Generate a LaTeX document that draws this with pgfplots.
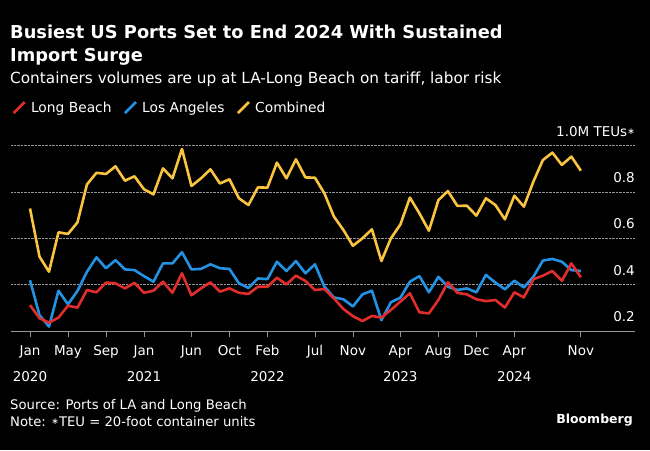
\documentclass[border=0pt]{standalone}
\usepackage{pgfplots}
\pgfplotsset{compat=1.18}
\usepackage{pgfplotstable}
\usepackage{fontspec}
\setmainfont{DejaVu Sans}

\definecolor{lbred}{RGB}{226,45,45}
\definecolor{lablue}{RGB}{36,146,226}
\definecolor{combyel}{RGB}{250,196,64}
\definecolor{gridgray}{RGB}{150,150,150}

% monthly TEUs (millions), Jan 2020 = 0
\pgfplotstableread{
m lb la comb
0 0.312 0.419 0.729
1 0.255 0.269 0.521
2 0.236 0.219 0.456
3 0.258 0.374 0.626
4 0.309 0.315 0.619
5 0.301 0.373 0.669
6 0.377 0.456 0.833
7 0.367 0.518 0.883
8 0.409 0.471 0.878
9 0.406 0.506 0.911
10 0.384 0.466 0.849
11 0.408 0.463 0.868
12 0.365 0.437 0.812
13 0.374 0.413 0.790
14 0.413 0.492 0.902
15 0.365 0.492 0.859
16 0.449 0.540 0.986
17 0.354 0.466 0.826
18 0.384 0.468 0.859
19 0.410 0.488 0.898
20 0.370 0.471 0.837
21 0.384 0.468 0.855
22 0.365 0.406 0.773
23 0.360 0.386 0.744
24 0.391 0.427 0.820
25 0.391 0.424 0.819
26 0.430 0.499 0.927
27 0.401 0.459 0.859
28 0.439 0.502 0.941
29 0.416 0.449 0.863
30 0.377 0.488 0.862
31 0.381 0.391 0.794
32 0.341 0.345 0.694
33 0.295 0.337 0.636
34 0.264 0.306 0.568
35 0.243 0.358 0.600
36 0.265 0.374 0.639
37 0.258 0.247 0.502
38 0.291 0.324 0.600
39 0.327 0.344 0.660
40 0.363 0.413 0.776
41 0.281 0.437 0.708
42 0.276 0.367 0.633
43 0.334 0.434 0.765
44 0.410 0.391 0.804
45 0.365 0.377 0.740
46 0.358 0.384 0.741
47 0.337 0.367 0.698
48 0.329 0.442 0.773
49 0.334 0.409 0.744
50 0.301 0.380 0.682
51 0.367 0.417 0.784
52 0.345 0.388 0.737
53 0.423 0.434 0.845
54 0.439 0.504 0.938
55 0.459 0.511 0.970
56 0.417 0.499 0.917
57 0.492 0.463 0.953
58 0.432 0.459 0.892
}\ports

\newcommand{\smallstar}{\raisebox{1.5pt}{\fontsize{9}{9}\selectfont ∗}}

\begin{document}
\begin{tikzpicture}
\fill[black] (0pt,0pt) rectangle (650pt,450pt);
\useasboundingbox (0pt,0pt) rectangle (650pt,450pt);

\node[anchor=base west, text=white, inner sep=0, font=\bfseries\fontsize{17.8}{20}\selectfont] at (10pt,411pt) {Busiest US Ports Set to End 2024 With Sustained};
\node[anchor=base west, text=white, inner sep=0, font=\bfseries\fontsize{17.8}{20}\selectfont] at (10pt,388pt) {Import Surge};
\node[anchor=base west, text=white, inner sep=0, font=\fontsize{15.3}{17}\selectfont] at (10pt,366pt) {Containers volumes are up at LA-Long Beach on tariff, labor risk};

\node[anchor=base west, text=white, inner sep=0, font=\fontsize{13.2}{16}\selectfont] at (10pt,41pt) {Source: Ports of LA and Long Beach};
\node[anchor=base west, text=white, inner sep=0, font=\fontsize{13.2}{16}\selectfont] at (10pt,24pt) {Note: \smallstar TEU = 20-foot container units};
\node[anchor=base east, text=white, inner sep=0, font=\bfseries\fontsize{12.5}{16}\selectfont] at (633pt,27pt) {Bloomberg};

\begin{axis}[
    at={(11pt,119pt)}, anchor=south west,
    scale only axis, width=624pt, height=185.3pt,
    xmin=-2, xmax=63.7, ymin=0.2, ymax=1.0,
    clip=false,
    axis x line*=bottom, axis y line*=right,
    x axis line style={-, draw=gridgray, line width=1pt},
    y axis line style={draw=none},
    xtick={0,4,8,12,17,21,25,30,34,39,43,47,51,58},
    xticklabels={Jan\\2020,May,Sep,Jan\\2021,Jun,Oct,Feb\\2022,Jul,Nov,Apr\\2023,Aug,Dec,Apr\\2024,Nov},
    xtick align=outside,
    major tick length=6pt,
    xtick style={draw=gridgray, line width=0.8pt},
    xticklabel style={align=center, text=white, font=\fontsize{13.5}{26}\selectfont, yshift=-5pt},
    ytick={0.2,0.4,0.6,0.8,1.0},
    yticklabels={0.2,0.4,0.6,0.8,1.0M TEUs\smallstar},
    ytick style={draw=none},
    yticklabel style={anchor=south east, inner sep=0pt, xshift=0pt, yshift=9pt, text=white, font=\fontsize{13.5}{16}\selectfont},
    /pgf/number format/assume math mode=true,
    ymajorgrids=true,
    grid style={densely dotted, draw=gridgray, line width=0.9pt},
    legend columns=-1,
    legend style={at={(axis description cs:0.002,1.25)}, anchor=north west,
        draw=none, fill=none, text=white, inner sep=0pt,
        font=\fontsize{13.8}{16}\selectfont,
        /tikz/every even column/.append style={column sep=10pt}},
    legend image code/.code={\draw[#1, line width=2.6pt, line cap=butt] (0pt,-5.5pt) -- (11pt,5.5pt); \path (14pt,0pt);},
    every axis plot/.append style={line width=2.6pt, line join=round, mark=none},
]
\addplot[combyel, forget plot] table[x=m, y=comb] {\ports};
\addplot[lablue, forget plot] table[x=m, y=la] {\ports};
\addplot[lbred, forget plot] table[x=m, y=lb] {\ports};
\addlegendimage{lbred}
\addlegendimage{lablue}
\addlegendimage{combyel}
\legend{Long Beach, Los Angeles, Combined}
\end{axis}
\end{tikzpicture}
\end{document}
